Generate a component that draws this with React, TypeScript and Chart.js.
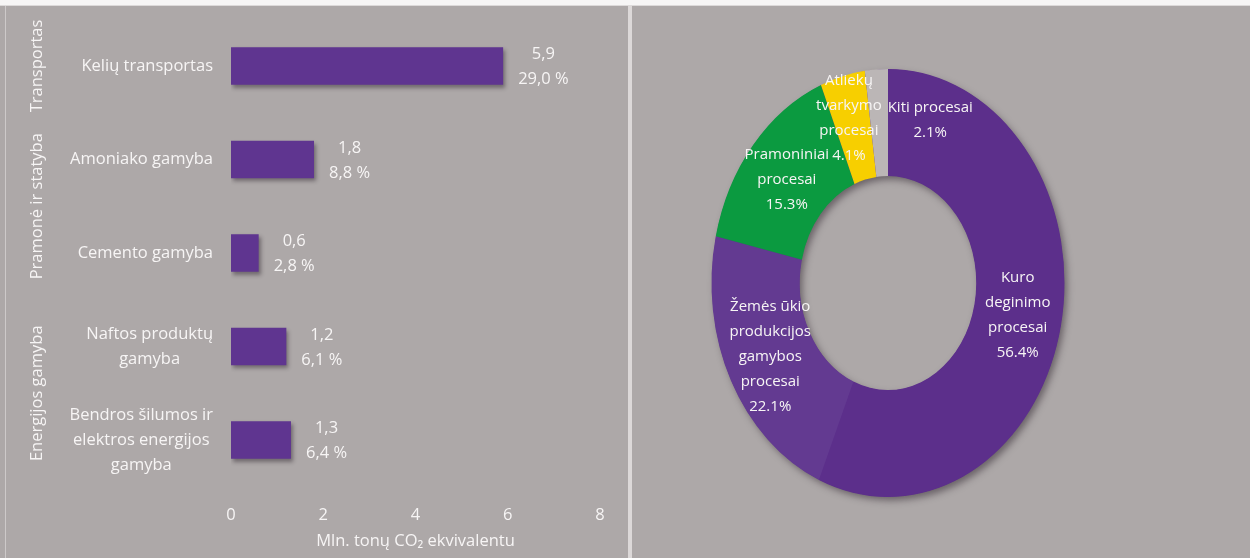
import React, { useEffect, useRef } from "react";
import { Chart, registerables } from "chart.js";

Chart.register(...registerables);

// ---------- DATA ----------
const barCategories: string[][] = [
  ["Kelių transportas"],
  ["Amoniako gamyba"],
  ["Cemento gamyba"],
  ["Naftos produktų", "gamyba"],
  ["Bendros šilumos ir", "elektros energijos", "gamyba"],
];
const barValues: number[] = [5.9, 1.8, 0.6, 1.2, 1.3];
const barShares: number[] = [29.0, 8.8, 2.8, 6.1, 6.4];
const sectorGroups: string[] = ["Transportas", "Pramonė ir statyba", "Energijos gamyba"];
const sectorGroupMembers: number[][] = [[0], [1, 2], [3, 4]];
const xTickValues: number[] = [0, 2, 4, 6, 8];
const xAxisTitle = "Mln. tonų CO₂ ekvivalentu";

const pieNames: string[][] = [
  ["Kuro", "deginimo", "procesai"],
  ["Žemės ūkio", "produkcijos", "gamybos", "procesai"],
  ["Pramoniniai", "procesai"],
  ["Atliekų", "tvarkymo", "procesai"],
  ["Kiti procesai"],
];
const pieValues: number[] = [56.4, 22.1, 15.3, 4.1, 2.1];

// ---------- STYLE ----------
const FONT = "'Open Sans', 'Noto Sans', sans-serif";
const FONT_SIZE = 16.5;
const PIE_FONT_SIZE = 15;
const LINE_H = 25;
const BG = "#ada8a8";
const TEXT = "#f7f5f5";
const BAR_COLOR = "#5f3590";
const PIE_COLORS = ["#5c2f8b", "#633a91", "#0b9a40", "#f7cf00", "#bbb6b6"];
const ELLIPSE_K = 1.2125;
const pieLabelNudge: number[][] = [[0, 0], [0, 0], [0, 0], [-5, -10], [51, -3]];
const GROUP_X = 31;

const fmt = (v: number) => v.toFixed(1).replace(".", ",");

function drawLines(ctx: CanvasRenderingContext2D, lines: string[], cx: number, cy: number) {
  lines.forEach((t, j) => {
    ctx.fillText(t, cx, cy + (j - (lines.length - 1) / 2) * LINE_H);
  });
}

const barPlugin = {
  id: "barExtras",
  beforeDatasetsDraw(chart: any) {
    const ctx = chart.ctx;
    ctx.save();
    ctx.shadowColor = "rgba(40,30,40,0.45)";
    ctx.shadowBlur = 4;
    ctx.shadowOffsetX = 2;
    ctx.shadowOffsetY = 3;
  },
  afterDatasetsDraw(chart: any) {
    chart.ctx.restore();
  },
  afterDraw(chart: any) {
    const ctx: CanvasRenderingContext2D = chart.ctx;
    const yScale = chart.scales.y;
    const area = chart.chartArea;
    ctx.save();
    ctx.fillStyle = TEXT;
    ctx.font = `${FONT_SIZE}px ${FONT}`;
    ctx.textBaseline = "middle";
    ctx.textAlign = "center";
    // category labels
    barCategories.forEach((lines, i) => {
      const y = yScale.getPixelForValue(i);
      const w = Math.max(...lines.map((l) => ctx.measureText(l).width));
      drawLines(ctx, lines, area.left - 18 - w / 2, y);
    });
    // value labels
    const meta = chart.getDatasetMeta(0);
    meta.data.forEach((bar: any, i: number) => {
      const lines = [fmt(barValues[i]), fmt(barShares[i]) + " %"];
      const w = Math.max(...lines.map((l) => ctx.measureText(l).width));
      drawLines(ctx, lines, bar.x + 15 + w / 2, bar.y + 1);
    });
    // group labels
    sectorGroups.forEach((g, k) => {
      const ys = sectorGroupMembers[k].map((i) => yScale.getPixelForValue(i));
      const y = ys.reduce((a, b) => a + b, 0) / ys.length;
      ctx.save();
      ctx.translate(GROUP_X, y);
      ctx.rotate(-Math.PI / 2);
      ctx.fillText(g, 0, 0);
      ctx.restore();
    });
    ctx.restore();
  },
};

const ellipsePlugin = {
  id: "ellipseDoughnut",
  beforeDatasetsDraw(chart: any) {
    const ctx: CanvasRenderingContext2D = chart.ctx;
    const arc: any = chart.getDatasetMeta(0).data[0];
    ctx.save();
    ctx.translate(0, arc.y);
    ctx.scale(1, ELLIPSE_K);
    ctx.translate(0, -arc.y);
    ctx.save();
    ctx.beginPath();
    ctx.arc(arc.x, arc.y, arc.outerRadius - 0.5, 0, Math.PI * 2);
    ctx.arc(arc.x, arc.y, arc.innerRadius + 0.5, 0, Math.PI * 2, true);
    ctx.shadowColor = "rgba(40,30,40,0.5)";
    ctx.shadowBlur = 7;
    ctx.shadowOffsetX = 3;
    ctx.shadowOffsetY = 4;
    ctx.fillStyle = PIE_COLORS[0];
    ctx.fill();
    ctx.restore();
  },
  afterDatasetsDraw(chart: any) {
    const ctx: CanvasRenderingContext2D = chart.ctx;
    ctx.restore();
    const meta = chart.getDatasetMeta(0);
    ctx.save();
    ctx.fillStyle = TEXT;
    ctx.font = `${PIE_FONT_SIZE}px ${FONT}`;
    ctx.textBaseline = "middle";
    ctx.textAlign = "center";
    meta.data.forEach((a: any, i: number) => {
      const mid = (a.startAngle + a.endAngle) / 2;
      const r = (a.innerRadius + a.outerRadius) / 2;
      const px = a.x + r * Math.cos(mid) + pieLabelNudge[i][0];
      const py = a.y + ELLIPSE_K * r * Math.sin(mid) + pieLabelNudge[i][1];
      const lines = [...pieNames[i], pieValues[i].toFixed(1) + "%"];
      drawLines(ctx, lines, px, py);
    });
    ctx.restore();
  },
};

export default function App() {
  const barRef = useRef<HTMLCanvasElement>(null);
  const pieRef = useRef<HTMLCanvasElement>(null);

  useEffect(() => {
    const font = { family: FONT, size: FONT_SIZE };
    const bar = new Chart(barRef.current!, {
      type: "bar",
      data: {
        labels: barCategories,
        datasets: [
          {
            data: barValues,
            backgroundColor: BAR_COLOR,
            borderWidth: 0,
            categoryPercentage: 0.8,
            barPercentage: 0.5,
          },
        ],
      },
      options: {
        indexAxis: "y",
        animation: false,
        responsive: true,
        maintainAspectRatio: false,
        events: [],
        layout: { padding: { top: 13.25, right: 28, bottom: 0, left: 0 } },
        plugins: { legend: { display: false }, tooltip: { enabled: false } },
        scales: {
          x: {
            min: 0,
            max: 8,
            afterBuildTicks: (s: any) => {
              s.ticks = xTickValues.map((v) => ({ value: v }));
            },
            ticks: { color: TEXT, font, padding: 19 },
            grid: { display: false, drawTicks: false },
            border: { display: false },
            title: {
              display: true,
              text: xAxisTitle,
              color: TEXT,
              font,
              padding: { top: 0, bottom: 7 },
            },
            afterFit: (s: any) => {
              s.height = 71.25;
            },
          },
          y: {
            ticks: { display: false },
            grid: { display: false, drawTicks: false },
            border: { display: false },
            afterFit: (s: any) => {
              s.width = 225;
            },
          },
        },
      } as any,
      plugins: [barPlugin],
    });

    const pie = new Chart(pieRef.current!, {
      type: "doughnut",
      data: {
        labels: pieNames.map((n) => n.join(" ")),
        datasets: [
          {
            data: pieValues,
            backgroundColor: PIE_COLORS,
            borderWidth: 0,
            hoverOffset: 0,
            offset: 0,
            clip: false,
          } as any,
        ],
      },
      options: {
        animation: false,
        responsive: true,
        maintainAspectRatio: false,
        events: [],
        cutout: "50%",
        layout: { padding: { left: 79.5, right: 185.5, top: 100.5, bottom: 98.5 } },
        plugins: { legend: { display: false }, tooltip: { enabled: false } },
      } as any,
      plugins: [ellipsePlugin],
    });

    return () => {
      bar.destroy();
      pie.destroy();
    };
  }, []);

  return (
    <div
      style={{
        position: "fixed",
        left: 0,
        top: 0,
        width: 1250,
        height: 558,
        background: "#f6f5f5",
        overflow: "hidden",
      }}
    >
      <div style={{ position: "absolute", left: 0, top: 5, width: 1250, height: 1, background: "#dcd9d9" }} />
      <div style={{ position: "absolute", left: 0, top: 6, width: 1250, height: 552, background: BG }} />
      <div style={{ position: "absolute", left: 5, top: 6, width: 1, height: 552, background: "#cdc9c9" }} />
      <div style={{ position: "absolute", left: 628, top: 6, width: 4, height: 552, background: "#dcd8d8" }} />
      <div style={{ position: "absolute", left: 6, top: 6, width: 622, height: 552 }}>
        <canvas ref={barRef} />
      </div>
      <div style={{ position: "absolute", left: 632, top: 6, width: 618, height: 552 }}>
        <canvas ref={pieRef} />
      </div>
    </div>
  );
}
